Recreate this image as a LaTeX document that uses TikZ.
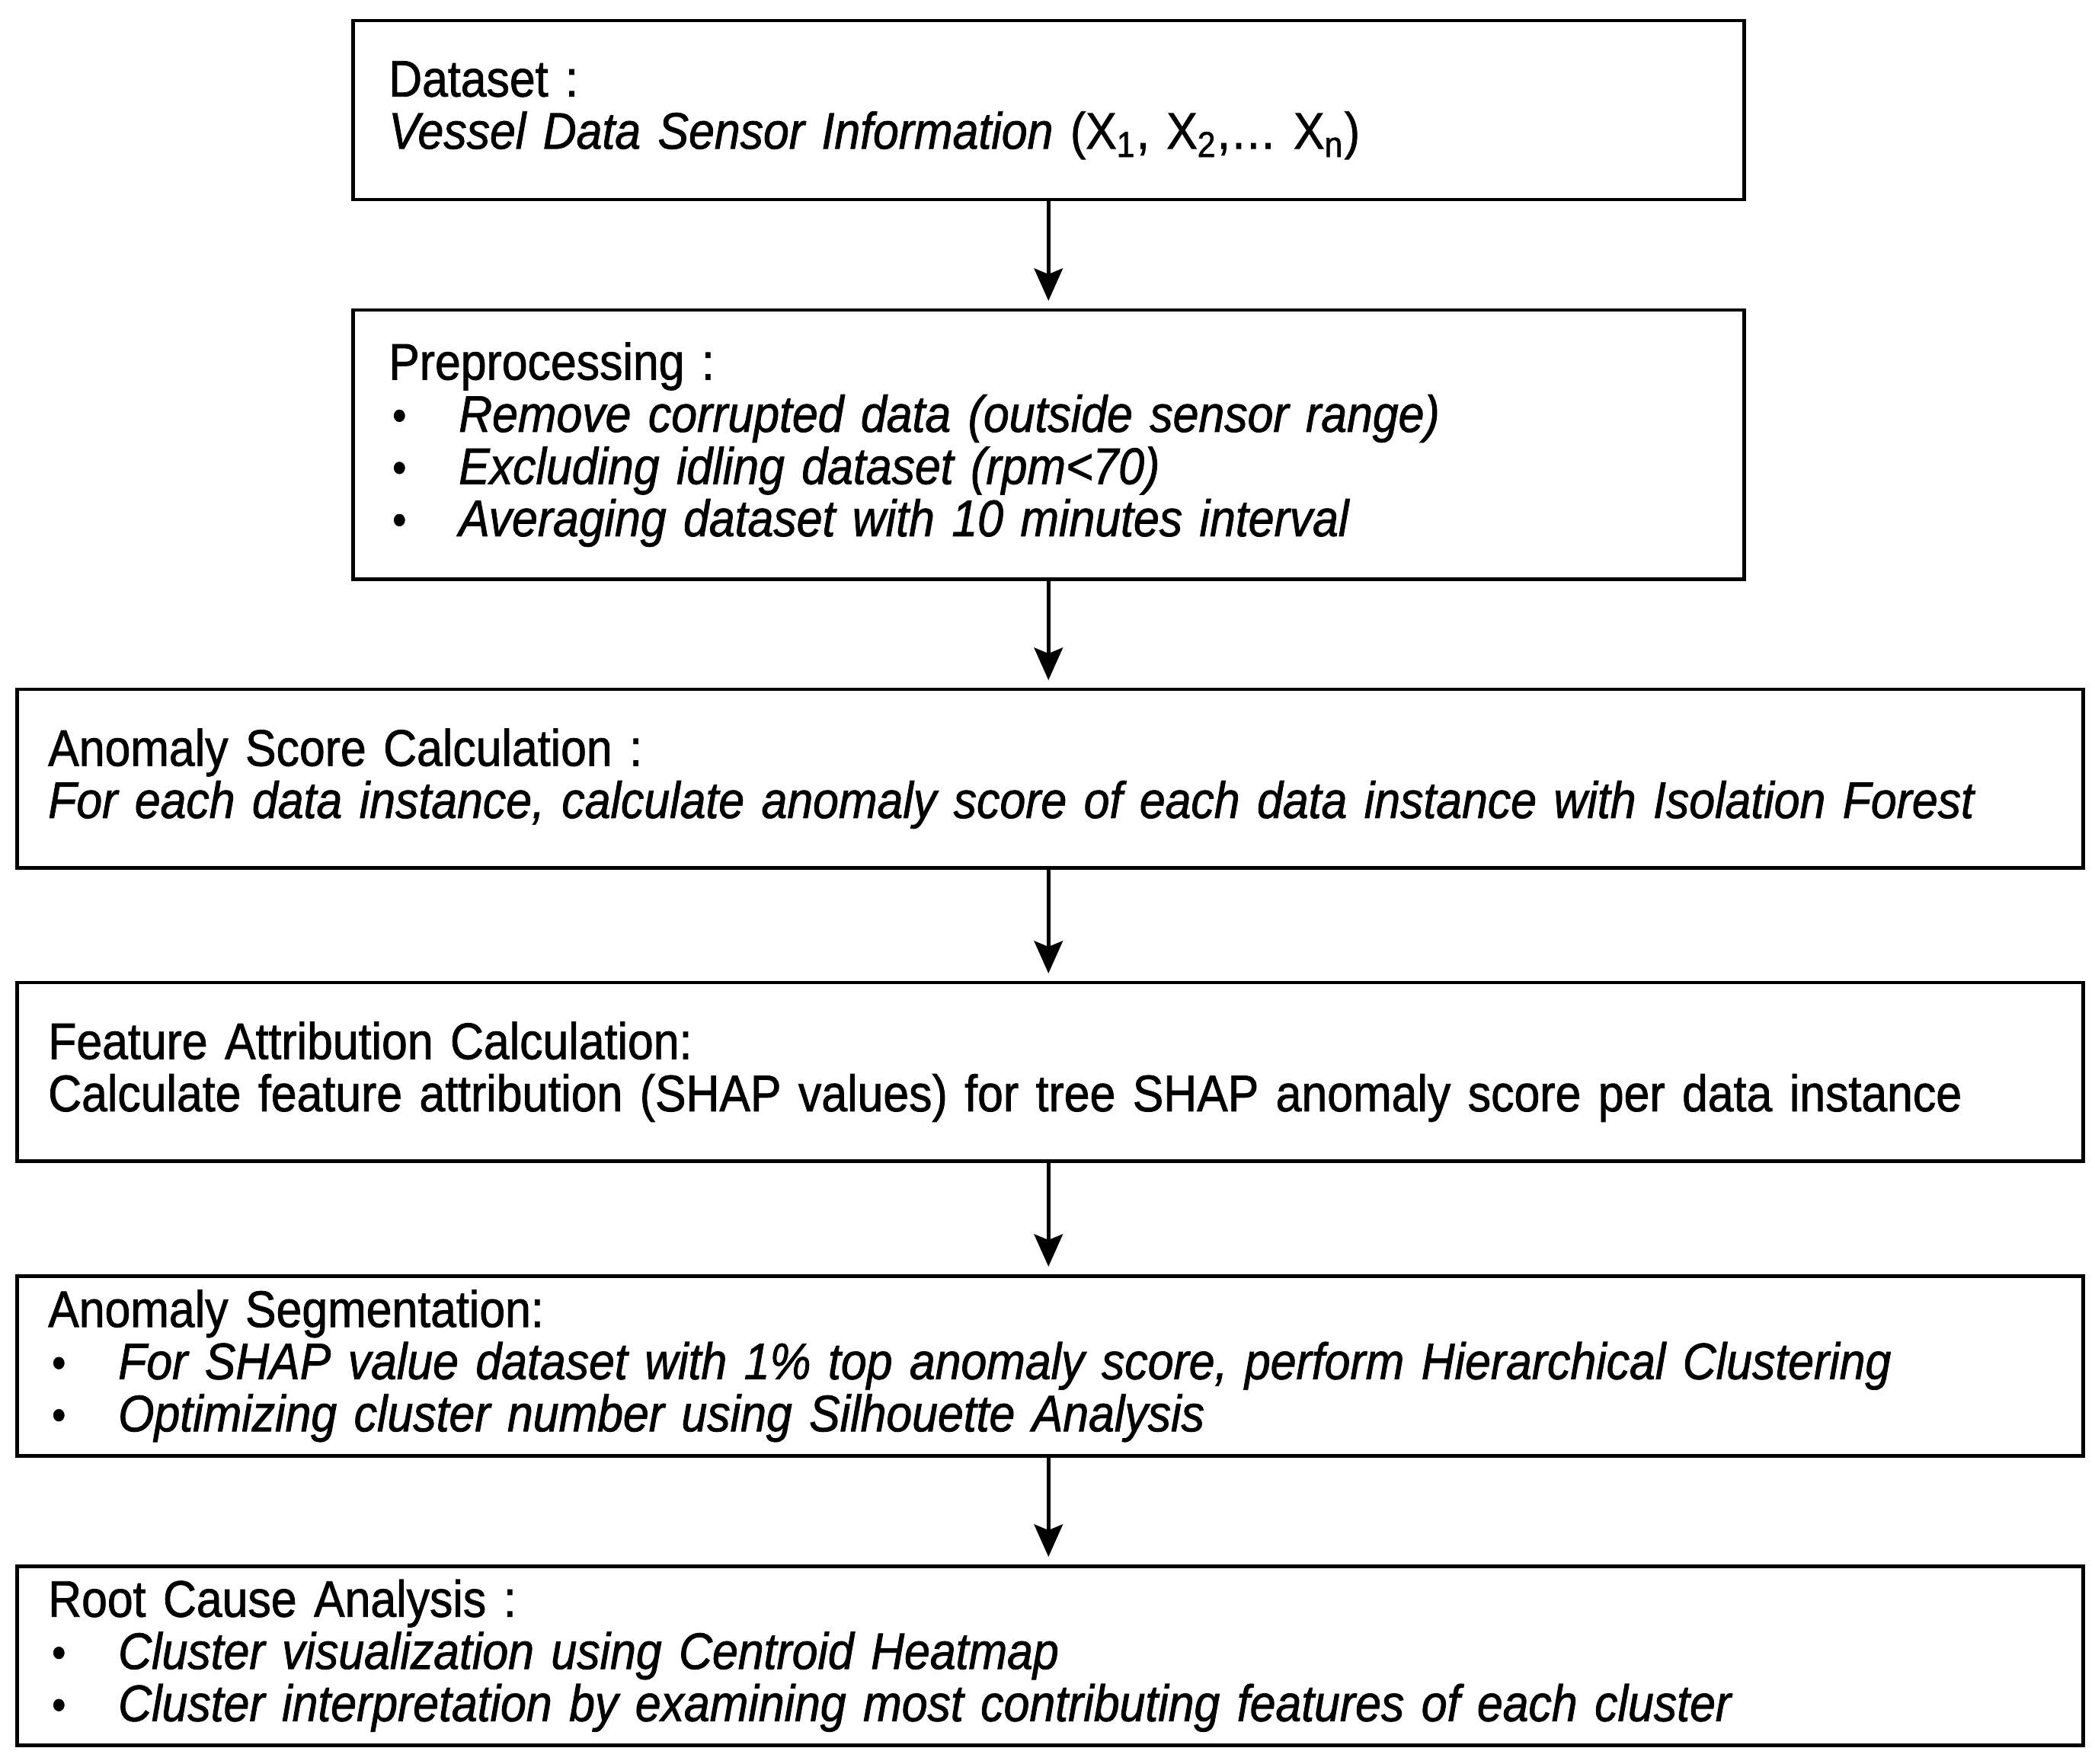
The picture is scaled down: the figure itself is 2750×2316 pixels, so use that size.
\documentclass[tikz,border=0pt]{standalone}
\usepackage{fontspec}
\setmainfont[FakeStretch=0.9,FakeBold=1.2]{Liberation Sans}
\usetikzlibrary{arrows.meta}
\newcommand{\bul}{\makebox[18.4pt][l]{\hspace{1pt}\raisebox{0.4pt}{\fontsize{11.5pt}{11.5pt}\selectfont\textbullet}}}
\begin{document}
\begin{tikzpicture}[x=0.2pt,y=-0.2pt,
  box/.style={draw=black, line width=0.9pt, rectangle, inner sep=0pt, anchor=north west, align=left,
    font=\fontsize{13.5pt}{13.7pt}\selectfont},
  narrowbox/.style={box, minimum width=365.2pt, text width=346.4pt},
  widebox/.style={box, minimum width=542.4pt, text width=526pt},
  flow/.style={-{Stealth[length=8.5pt,width=7.5pt,inset=1.5pt]}, line width=1pt, shorten >=2pt}]
\useasboundingbox (0,0) rectangle (2750,2316);

\node[narrowbox, minimum height=47pt] (b1) at (461,25)
  {Dataset :\\
   \textit{Vessel Data Sensor Information} (X\textsubscript{1}, X\textsubscript{2},\dots\ X\textsubscript{n})};

\node[narrowbox, minimum height=70.6pt] (b2) at (461,405)
  {Preprocessing :\\
   \bul\textit{Remove corrupted data (outside sensor range)}\\
   \bul\textit{Excluding idling dataset (rpm<70)}\\
   \bul\textit{Averaging dataset with 10 minutes interval}};

\node[widebox, minimum height=46.8pt] (b3) at (20,903)
  {Anomaly Score Calculation :\\
   \textit{For each data instance, calculate anomaly score of each data instance with Isolation Forest}};

\node[widebox, minimum height=46.8pt] (b4) at (20,1288)
  {Feature Attribution Calculation:\\
   Calculate feature attribution (SHAP values) for tree SHAP anomaly score per data instance};

\node[widebox, minimum height=47.2pt] (b5) at (20,1673)
  {Anomaly Segmentation:\\
   \bul\textit{For SHAP value dataset with 1\% top anomaly score, perform Hierarchical Clustering}\\
   \bul\textit{Optimizing cluster number using Silhouette Analysis}};

\node[widebox, minimum height=47pt] (b6) at (20,2054)
  {Root Cause Analysis :\\
   \bul\textit{Cluster visualization using Centroid Heatmap}\\
   \bul\textit{Cluster interpretation by examining most contributing features of each cluster}};

\draw[flow] (b1.south) -- (b1.south |- b2.north);
\draw[flow] (b2.south) -- (b2.south |- b3.north);
\draw[flow] (b3.south -| b2.south) -- (b2.south |- b4.north);
\draw[flow] (b4.south -| b2.south) -- (b2.south |- b5.north);
\draw[flow] (b5.south -| b2.south) -- (b2.south |- b6.north);
\end{tikzpicture}
\end{document}
